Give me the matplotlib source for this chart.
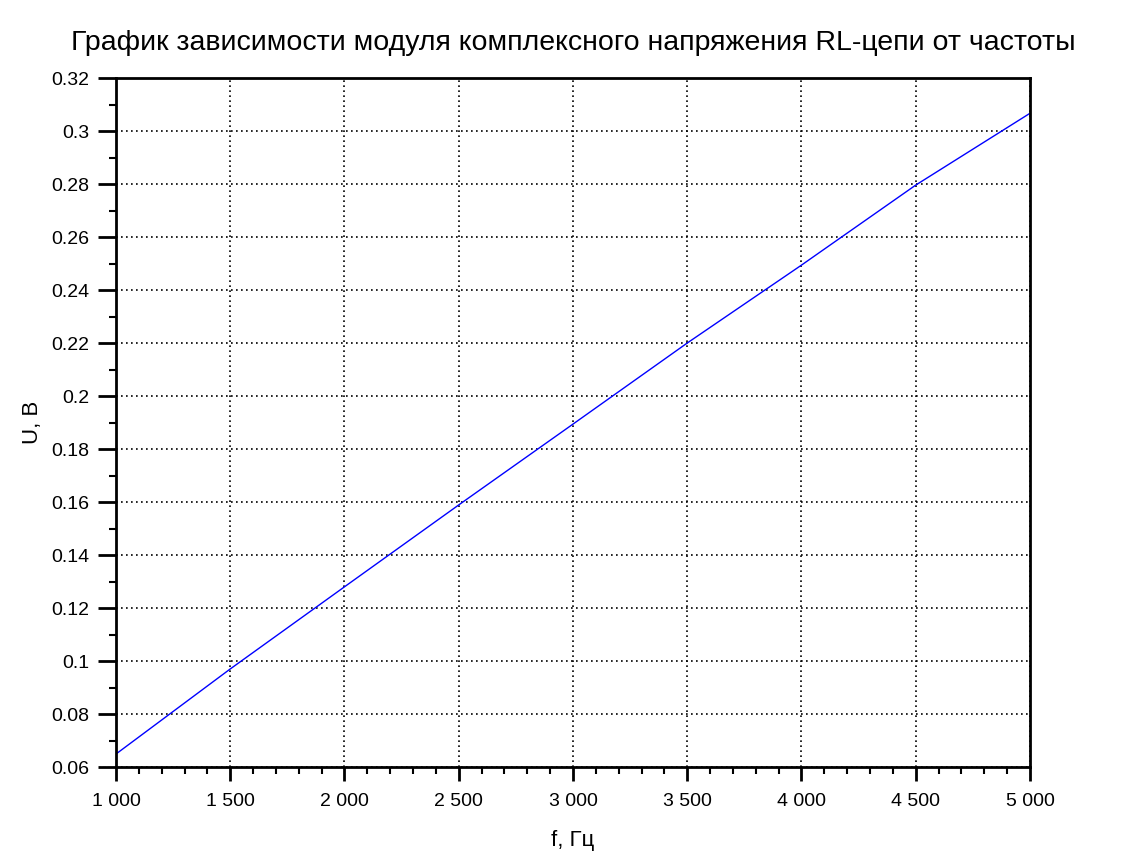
import matplotlib
matplotlib.use("Agg")
import matplotlib.pyplot as plt
from matplotlib.ticker import MultipleLocator, FuncFormatter

# values
freq = [1000, 1500, 2000, 2500, 3000, 3500, 4000, 4500, 5000]
volt = [0.0649, 0.0970, 0.1280, 0.1589, 0.1894, 0.2200, 0.2494, 0.2796, 0.3067]

title = "График зависимости модуля комплексного напряжения RL-цепи от частоты"
xlab = "f, Гц"
ylab = "U, B"

plt.rcParams['font.family'] = ['Liberation Sans', 'DejaVu Sans']

fig = plt.figure(figsize=(11.29, 8.67), dpi=100)
ax = fig.add_axes([0.1027, 0.1153, 0.8096, 0.7947])

ax.plot(freq, volt, color=(0, 0, 1), lw=1)

ax.set_xlim(1000, 5000)
ax.set_ylim(0.06, 0.32)
ax.xaxis.set_major_locator(MultipleLocator(500))
ax.xaxis.set_minor_locator(MultipleLocator(100))
ax.yaxis.set_major_locator(MultipleLocator(0.02))
ax.yaxis.set_minor_locator(MultipleLocator(0.01))

def xfmt(v, pos):
    return "{:,}".format(int(round(v))).replace(",", " ")

def yfmt(v, pos):
    return "{:g}".format(round(v, 4))

ax.xaxis.set_major_formatter(FuncFormatter(xfmt))
ax.yaxis.set_major_formatter(FuncFormatter(yfmt))

ax.tick_params(which='major', direction='out', width=2, labelsize=14, colors='black')
ax.tick_params(axis='x', which='major', length=10, pad=9)
ax.tick_params(axis='y', which='major', length=13, pad=6)
ax.tick_params(which='minor', direction='out', length=5, width=1.5)
for s in ax.spines.values():
    s.set_linewidth(2)

ax.grid(True, which='major', color='black', linestyle=(0, (1, 2)), linewidth=1.2)

ax.set_title(title, fontsize=20.5, pad=20)
ax.set_xlabel(xlab, fontsize=16, labelpad=14)
ax.set_ylabel(ylab, fontsize=16, labelpad=6)

fig.savefig("out.png", dpi=100)
